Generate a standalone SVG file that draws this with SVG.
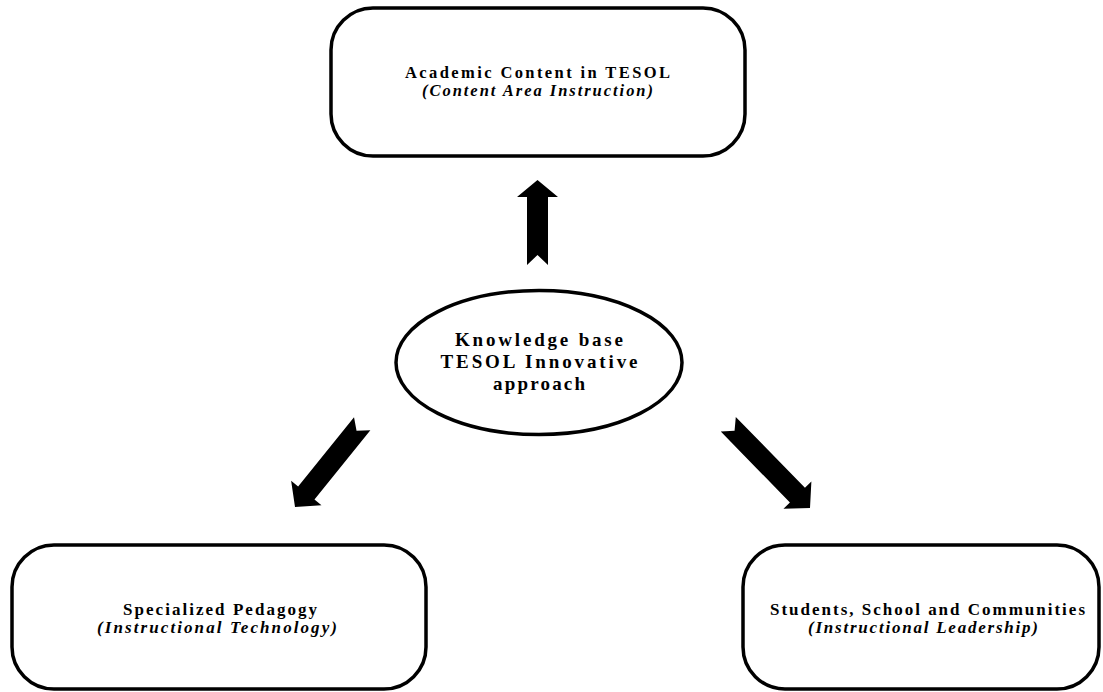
<svg xmlns="http://www.w3.org/2000/svg" width="1103" height="692" viewBox="0 0 1103 692">
<style>
.box{fill:#fff;stroke:#000;stroke-width:3.5}
.t{font-family:"Liberation Serif","Times New Roman",serif;font-weight:bold;fill:#000;text-anchor:middle}
.i{font-style:italic}
.arr{fill:#000;stroke:none}
</style>
<rect width="1103" height="692" fill="#fff"/>
<g id="connectors">
<path class="arr" transform="translate(537.5,180)" d="M0,0 L20.5,17 L10.5,17 L10.5,85 L0,75 L-10.5,85 L-10.5,17 L-20.5,17 Z"/>
<path class="arr" transform="translate(295,507) rotate(-141.1)" d="M0,0 L19.5,18 L10.5,18 L10.5,107 L0,98 L-10.5,107 L-10.5,18 L-19.5,18 Z"/>
<path class="arr" transform="translate(810,508) rotate(135.7)" d="M0,0 L19.5,18 L10.5,18 L10.5,117 L0,108 L-10.5,117 L-10.5,18 L-19.5,18 Z"/>
</g>
<g id="node-top">
<rect class="box" x="331" y="8" width="414" height="148" rx="42" ry="42"/>
<text class="t" x="537.5" y="78" font-size="16.5" textLength="265" lengthAdjust="spacing">Academic Content in TESOL</text>
<text class="t i" x="537.5" y="96" font-size="16.5" textLength="231" lengthAdjust="spacing">(Content Area Instruction)</text>
</g>
<g id="node-center">
<ellipse class="box" cx="539" cy="362.5" rx="143" ry="72" stroke-width="3"/>
<text class="t" x="539" y="346" font-size="19" textLength="168" lengthAdjust="spacing">Knowledge base</text>
<text class="t" x="539" y="368" font-size="19" textLength="197" lengthAdjust="spacing">TESOL Innovative</text>
<text class="t" x="539" y="390" font-size="19" textLength="92" lengthAdjust="spacing">approach</text>
</g>
<g id="node-left">
<rect class="box" x="12" y="545" width="414" height="144" rx="42" ry="42"/>
<text class="t" x="220" y="615" font-size="17" textLength="194" lengthAdjust="spacing">Specialized Pedagogy</text>
<text class="t i" x="217" y="633" font-size="17" textLength="240" lengthAdjust="spacing">(Instructional Technology)</text>
</g>
<g id="node-right">
<rect class="box" x="743" y="545" width="356" height="144" rx="42" ry="42"/>
<text class="t" x="927.5" y="615" font-size="17" textLength="315" lengthAdjust="spacing">Students, School and Communities</text>
<text class="t i" x="923" y="633" font-size="17" textLength="230" lengthAdjust="spacing">(Instructional Leadership)</text>
</g>
</svg>
